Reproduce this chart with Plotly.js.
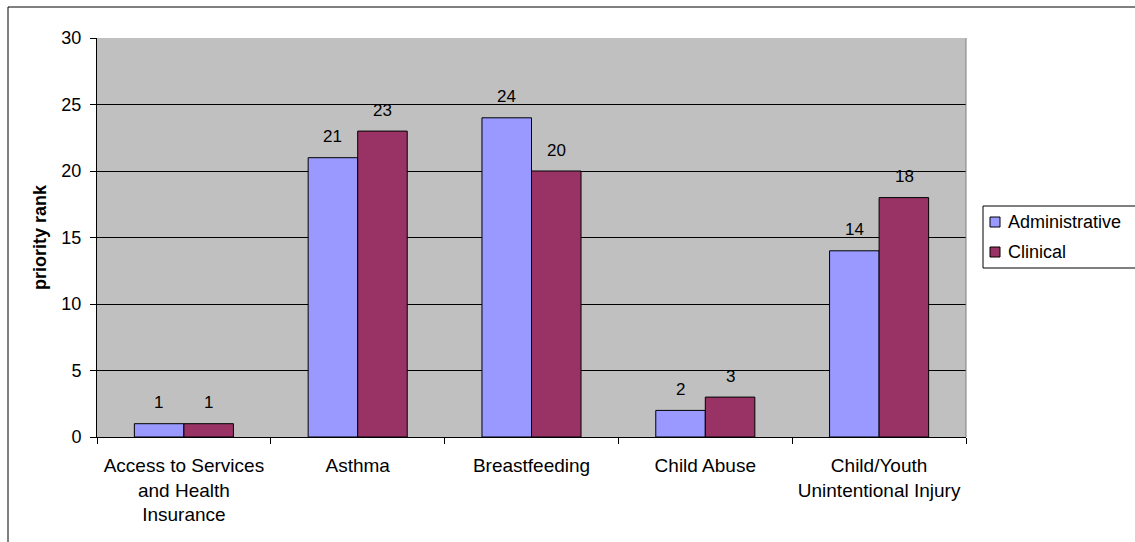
<!DOCTYPE html>
<html>
<head>
<meta charset="utf-8">
<script src="https://cdn.plot.ly/plotly-3.0.1.min.js"></script>
<style>html,body{margin:0;padding:0;background:#fff;}#chart{width:1135px;height:542px;}</style>
</head>
<body>
<div id="chart"></div>
<script>
var categories = ["Access to Services<br>and Health<br>Insurance", "Asthma", "Breastfeeding", "Child Abuse", "Child/Youth<br>Unintentional Injury"];
var administrative = [1, 21, 24, 2, 14];
var clinical = [1, 23, 20, 3, 18];
var seriesNames = ["Administrative", "Clinical"];
var seriesColors = ["#9999FF", "#993366"];
var tickVals = [0, 5, 10, 15, 20, 25, 30];

var FONT = "Liberation Sans, Arial, sans-serif";

var traces = [
  {type: "bar", name: seriesNames[0], x: categories, y: administrative, showlegend: false,
   marker: {color: seriesColors[0], line: {color: "#000000", width: 1}}, hoverinfo: "none"},
  {type: "bar", name: seriesNames[1], x: categories, y: clinical, showlegend: false,
   marker: {color: seriesColors[1], line: {color: "#000000", width: 1}}, hoverinfo: "none"}
];

var plotL = 97, plotR = 966, plotT = 38, plotB = 437;
var pw = plotR - plotL, ph = plotB - plotT;
function px2x(p) { return (p - plotL) / pw; }
function py2y(p) { return (plotB - p) / ph; }

var annotations = [];
[administrative, clinical].forEach(function (vals, s) {
  vals.forEach(function (v, i) {
    annotations.push({x: categories[i], y: v, xref: "x", yref: "y", text: String(v),
      showarrow: false, xshift: s === 0 ? -25 : 25, yshift: 21,
      font: {family: FONT, size: 17, color: "#000"}});
  });
});

var shapes = [
  {type: "line", xref: "paper", yref: "paper", x0: 1, x1: 1, y0: 0, y1: 1,
   line: {color: "#808080", width: 1}},
  {type: "rect", xref: "paper", yref: "paper", x0: px2x(8), x1: px2x(1145), y0: py2y(560), y1: py2y(7),
   line: {color: "#000", width: 1}, fillcolor: "rgba(0,0,0,0)", layer: "below"},
  // legend box
  {type: "rect", xref: "paper", yref: "paper", x0: px2x(983), x1: px2x(1145), y0: py2y(268), y1: py2y(206),
   line: {color: "#000", width: 1}, fillcolor: "#FFFFFF", layer: "above"}
];
var legendRows = [222, 252];
seriesNames.forEach(function (name, s) {
  var cy = legendRows[s];
  shapes.push({type: "rect", xref: "paper", yref: "paper", x0: px2x(990), x1: px2x(1000),
    y0: py2y(cy + 5), y1: py2y(cy - 5), line: {color: "#000", width: 1}, fillcolor: seriesColors[s], layer: "above"});
  annotations.push({xref: "paper", yref: "paper", x: px2x(1006), y: py2y(cy), xanchor: "left", yanchor: "middle",
    text: name, showarrow: false, font: {family: FONT, size: 18, color: "#000"}});
});

var layout = {
  width: 1135, height: 542,
  margin: {l: plotL, r: 1135 - plotR, t: plotT, b: 542 - plotB, pad: 0},
  paper_bgcolor: "#FFFFFF",
  plot_bgcolor: "#C0C0C0",
  font: {family: FONT, size: 17, color: "#000"},
  barmode: "group",
  bargap: 0.43,
  bargroupgap: 0,
  showlegend: false,
  xaxis: {type: "category", showline: true, linecolor: "#000", linewidth: 1,
    ticks: "outside", tickson: "boundaries", ticklen: 6, tickcolor: "#000",
    showgrid: false, tickfont: {family: FONT, size: 19, color: "#000"},
    ticklabelstandoff: 11, automargin: false},
  yaxis: {range: [0, 30], tickvals: tickVals, showline: true, linecolor: "#000", linewidth: 1,
    ticks: "outside", ticklen: 6, tickcolor: "#000", showgrid: true, gridcolor: "#000", gridwidth: 1,
    zeroline: false, tickfont: {family: FONT, size: 18, color: "#000"}, ticklabelstandoff: 5,
    automargin: false,
    title: {text: "<b>priority rank</b>", font: {family: FONT, size: 18, color: "#000"}, standoff: 10}},
  annotations: annotations,
  shapes: shapes
};

Plotly.newPlot("chart", traces, layout, {displayModeBar: false, staticPlot: true});
</script>
</body>
</html>
